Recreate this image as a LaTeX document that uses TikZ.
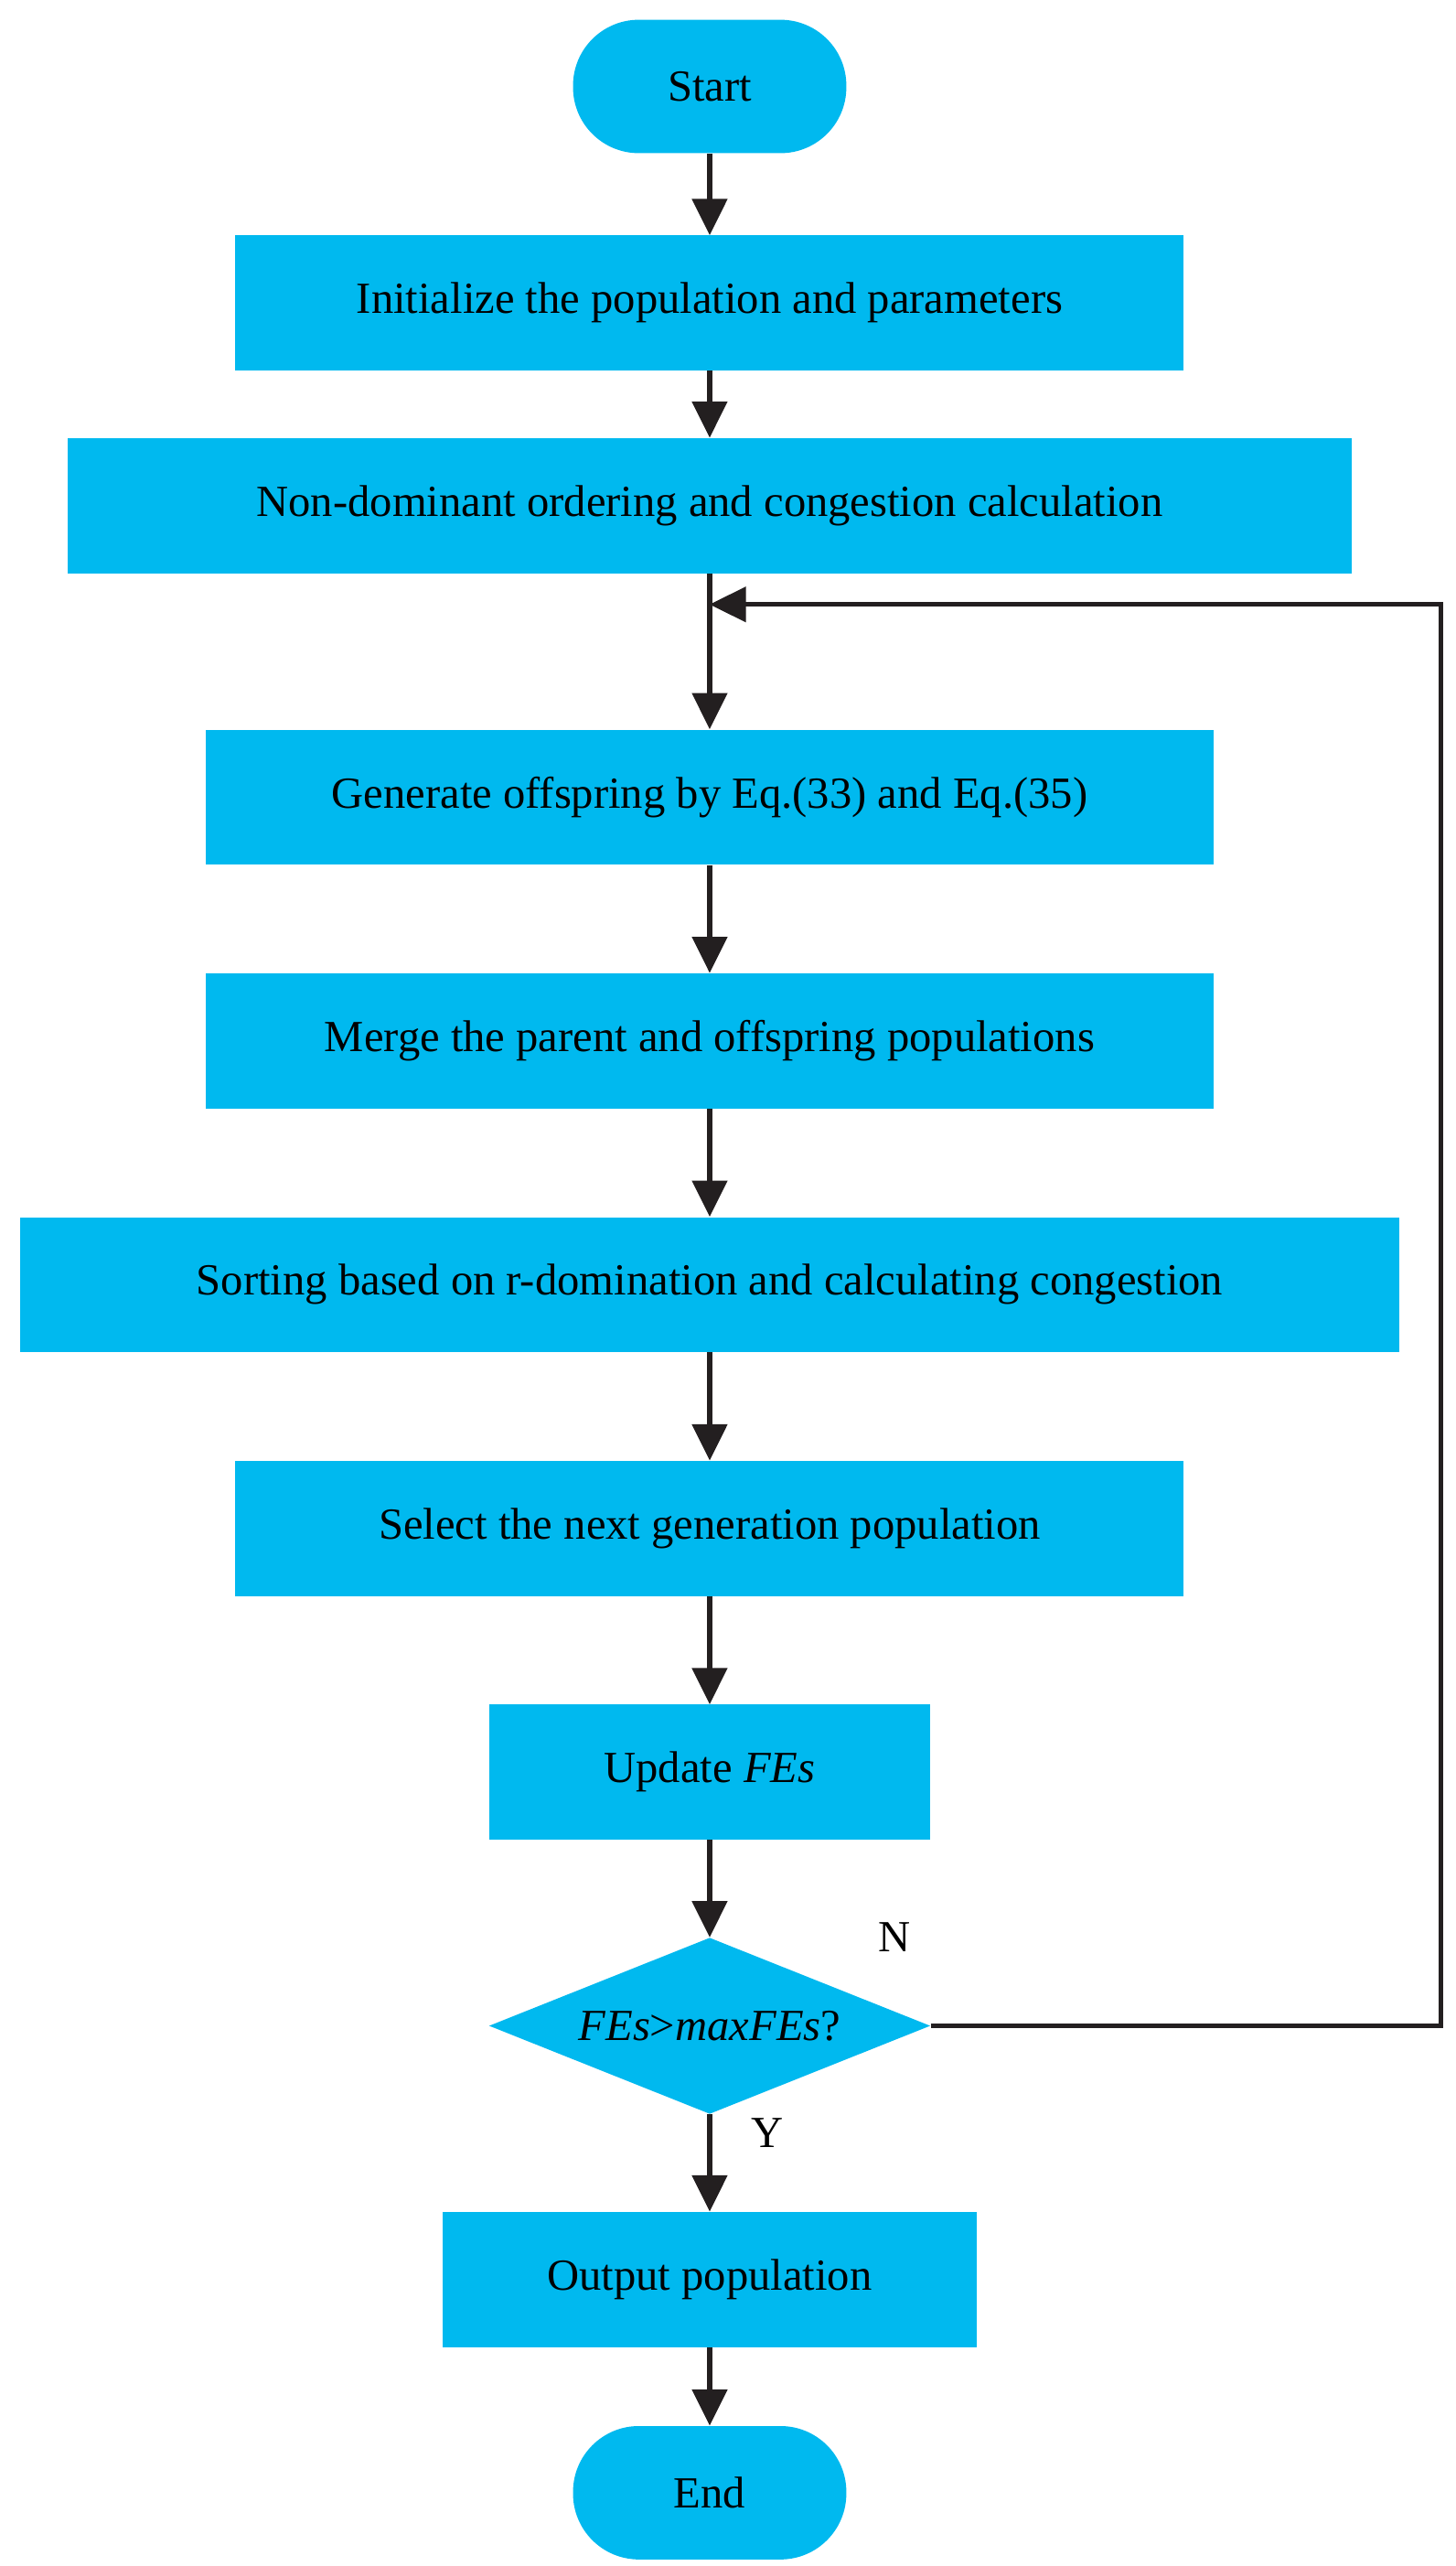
\documentclass[tikz,border=0pt]{standalone}
\usepackage{fontspec}
\setmainfont{Liberation Serif}
\usetikzlibrary{arrows.meta,shapes.geometric}
\definecolor{boxc}{HTML}{00B9EF}
\definecolor{linec}{HTML}{231F20}
\begin{document}
\begin{tikzpicture}[x=1pt,y=-1pt,
  every node/.style={font=\fontsize{27}{32}\selectfont},
  box/.style={fill=boxc,draw=none,minimum height=82pt,inner sep=0pt},
  term/.style={fill=boxc,draw=none,rounded corners=40pt,minimum height=81pt,minimum width=166pt},
  arr/.style={draw=linec,line width=3pt,-{Triangle[length=22pt,width=21pt]}},
  ln/.style={draw=linec,line width=3pt}]
\useasboundingbox (0,0) rectangle (884,1558);
\node[term] (start) at (431,52.5) {Start};
\node[box,minimum width=576pt] (init) at (431,184) {Initialize the population and parameters};
\node[box,minimum width=780pt] (nd) at (431,307) {Non-dominant ordering and congestion calculation};
\node[box,minimum width=612pt] (gen) at (431,484) {Generate offspring by Eq.(33) and Eq.(35)};
\node[box,minimum width=612pt] (merge) at (431,632) {Merge the parent and offspring populations};
\node[box,minimum width=838pt] (sort) at (431,780) {Sorting based on r-domination and calculating congestion};
\node[box,minimum width=576pt] (sel) at (431,928) {Select the next generation population};
\node[box,minimum width=268pt] (upd) at (431,1076) {Update \textit{FEs}};
\node[diamond,fill=boxc,draw=none,aspect=2.5,inner sep=0pt,minimum width=268pt,minimum height=107pt] (dec) at (431,1230) {\textit{FEs}>\textit{maxFEs}?};
\node[box,minimum width=324pt] (out) at (431,1384) {Output population};
\node[term] (end) at (431,1513.5) {End};
\node (N) at (543,1176) {N};
\node (Y) at (466,1295) {Y};
\coordinate (loop) at (431,367);
\coordinate (r1) at (875,1230);
\coordinate (r2) at (875,367);
\draw[arr] (start) -- (init);
\draw[arr] (init) -- (nd);
\draw[arr] (nd) -- (gen);
\draw[arr] (gen) -- (merge);
\draw[arr] (merge) -- (sort);
\draw[arr] (sort) -- (sel);
\draw[arr] (sel) -- (upd);
\draw[arr] (upd) -- (dec);
\draw[arr] (dec) -- (out);
\draw[arr] (out) -- (end);
\draw[arr] (dec.east) -- (r1) -- (r2) -- (loop);
\end{tikzpicture}
\end{document}
